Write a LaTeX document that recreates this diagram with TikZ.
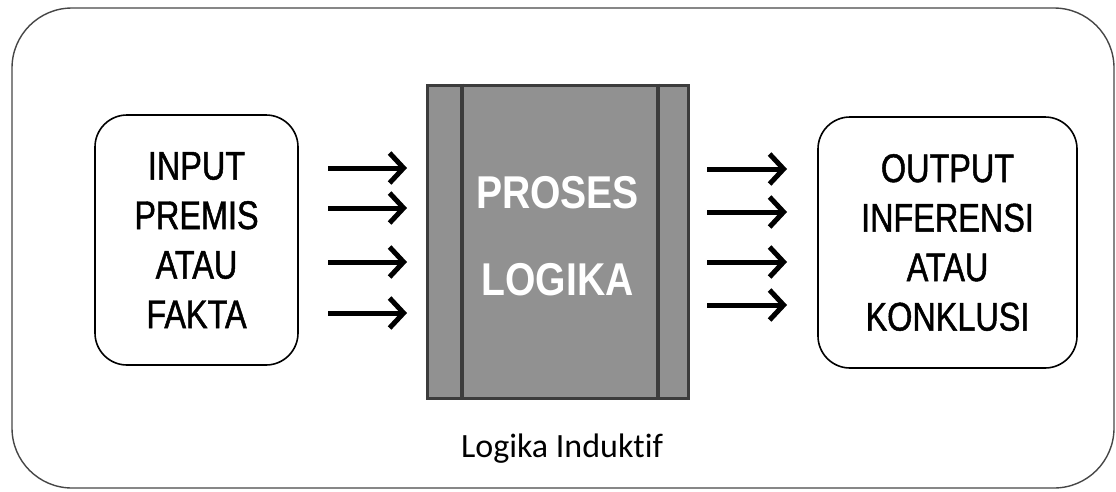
\documentclass[tikz,border=0pt]{standalone}
\usepackage{fontspec}
\setmainfont{Liberation Sans}
\newfontfamily\boxfont[FakeStretch=0.81,FakeBold=1.2]{Liberation Sans}
\newfontfamily\prosesfont[FakeStretch=0.85]{Liberation Sans}
\newfontfamily\captionfont[Ligatures=NoCommon]{Carlito}
\usetikzlibrary{
  arrows.meta,
  positioning,
}
\definecolor{prosesgray}{RGB}{145,145,145}
\definecolor{prosesedge}{RGB}{60,60,60}
\definecolor{frameedge}{RGB}{70,70,70}

\tikzset{
  termbox/.style={draw, line width=1.6pt, rounded corners=32pt, align=center,
    inner sep=0pt, font=\boxfont\fontsize{40}{49.5}\selectfont},
  flowarrow/.style={line width=5pt,
    -{Straight Barb[length=14pt,width=30pt,line width=5pt]}},
}

\begin{document}
\begin{tikzpicture}[x=1pt,y=-1pt]
\useasboundingbox (0,0) rectangle (1116,491);
\draw[frameedge, line width=1.4pt, rounded corners=60pt] (12,8) rectangle (1114,488);
% input / output boxes
\node[termbox, minimum width=203pt, minimum height=250pt] (input) at (196.5,240)
  {INPUT\\PREMIS\\ATAU\\FAKTA};
\node[termbox, minimum width=259pt, minimum height=251pt] (output) at (947.5,242.5)
  {OUTPUT\\INFERENSI\\ATAU\\KONKLUSI};
% proses block
\node[draw=prosesedge, fill=prosesgray, line width=3pt,
  minimum width=261pt, minimum height=313pt] (proses) at (557.5,241.5) {};
\draw[prosesedge, line width=4pt] ([xshift=36pt]proses.north west) -- ([xshift=36pt]proses.south west);
\draw[prosesedge, line width=4pt] ([xshift=-32pt]proses.north east) -- ([xshift=-32pt]proses.south east);
\node[white, align=center, font=\prosesfont\bfseries\fontsize{46}{87}\selectfont]
  (prosestext) at ([yshift=5.5pt]proses.center) {PROSES\\LOGIKA};
\node[anchor=base, font=\captionfont\fontsize{34}{40}\selectfont] (caption) at (562,457) {Logika Induktif};
% arrows
\foreach \y [count=\i] in {168,208,262,313} {
  \coordinate (ina\i) at (328,\y);
  \coordinate (inb\i) at (407,\y);
  \draw[flowarrow] (ina\i) -- (inb\i);
}
\foreach \y [count=\i] in {169,212,262,305} {
  \coordinate (outa\i) at (707,\y);
  \coordinate (outb\i) at (787,\y);
  \draw[flowarrow] (outa\i) -- (outb\i);
}
\end{tikzpicture}
\end{document}
